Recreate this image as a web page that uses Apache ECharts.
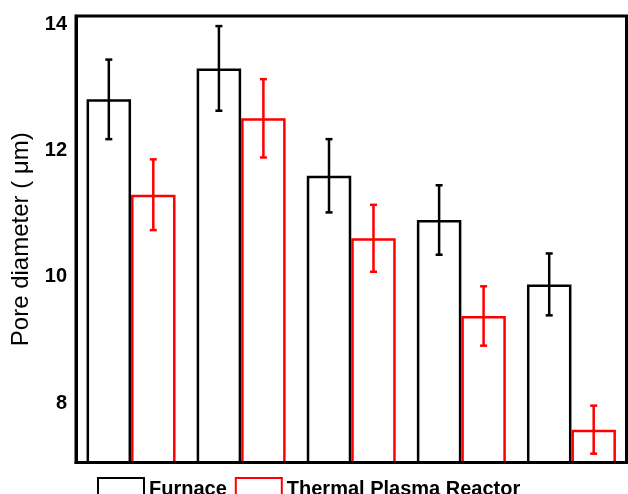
<!DOCTYPE html>
<html>
<head>
<meta charset="utf-8">
<script src="https://cdn.jsdelivr.net/npm/echarts@6/dist/echarts.min.js"></script>
<style>
  * { margin: 0; padding: 0; }
  body { background: #fff; }
</style>
</head>
<body>
<div id="main" style="width: 628px; height: 494px;"></div>
<script>
  // samples (no x labels in the original)
  const categories = ['1', '2', '3', '4', '5']
  const furnace = [12.81, 13.30, 11.60, 10.90, 9.88]
  const furnaceErr = [0.63, 0.67, 0.58, 0.55, 0.49]
  const plasma = [11.30, 12.51, 10.61, 9.38, 7.58]
  const plasmaErr = [0.56, 0.62, 0.53, 0.47, 0.38]
  const yTicks = [8, 10, 12, 14]

  const barPct = 40.4

  function errData (vals, errs) {
    return vals.map((v, i) => [i, v - errs[i], v + errs[i]])
  }

  function errBar (color, side) {
    return {
      type: 'custom',
      z: 4,
      silent: true,
      renderItem: function (params, api) {
        const i = api.value(0)
        const lo = api.coord([i, api.value(1)])
        const hi = api.coord([i, api.value(2)])
        const band = api.size([1, 0])[0]
        const x = lo[0] + side * band * barPct / 200
        const cap = 3.5
        const style = { stroke: color, lineWidth: 2.5 }
        return {
          type: 'group',
          children: [
            { type: 'line', shape: { x1: x, y1: hi[1], x2: x, y2: lo[1] }, style: style },
            { type: 'line', shape: { x1: x - cap, y1: hi[1], x2: x + cap, y2: hi[1] }, style: style },
            { type: 'line', shape: { x1: x - cap, y1: lo[1], x2: x + cap, y2: lo[1] }, style: style }
          ]
        }
      }
    }
  }

  const chart = echarts.init(document.getElementById('main'))
  chart.setOption({
    animation: false,
    grid: {
      left: 76,
      top: 16,
      right: 1.5,
      bottom: 31.5,
      show: true,
      borderColor: '#000',
      borderWidth: 3
    },
    legend: {
      left: 97,
      top: 477,
      padding: 0,
      icon: 'rect',
      itemWidth: 46,
      itemHeight: 22,
      itemGap: 8,
      textStyle: { fontFamily: 'Liberation Sans', fontSize: 20, fontWeight: 'bold', color: '#000' },
      data: ['Furnace', 'Thermal Plasma Reactor']
    },
    xAxis: {
      type: 'category',
      data: categories,
      z: 6,
      axisLine: { lineStyle: { color: '#000', width: 3 } },
      axisTick: { show: false },
      axisLabel: { show: false }
    },
    yAxis: {
      type: 'value',
      min: 7.06,
      max: 14.13,
      z: 6,
      name: 'Pore diameter ( \u03bcm)',
      nameLocation: 'middle',
      nameGap: 40,
      nameTextStyle: { fontFamily: 'Liberation Sans', fontSize: 24, color: '#000' },
      axisLine: { show: true, lineStyle: { color: '#000', width: 3 } },
      axisTick: { show: false },
      splitLine: { show: false },
      axisLabel: {
        customValues: yTicks,
        margin: 9,
        fontFamily: 'Liberation Sans',
        fontSize: 20,
        fontWeight: 'bold',
        color: '#000'
      }
    },
    series: [
      {
        name: 'Furnace',
        type: 'bar',
        barWidth: barPct + '%',
        barGap: '0%',
        data: furnace,
        itemStyle: { color: '#fff', borderColor: '#000', borderWidth: 2.5 }
      },
      {
        name: 'Thermal Plasma Reactor',
        type: 'bar',
        barWidth: barPct + '%',
        barGap: '0%',
        data: plasma,
        itemStyle: { color: '#fff', borderColor: '#ff0000', borderWidth: 2.5 }
      },
      Object.assign(errBar('#000', -1), { data: errData(furnace, furnaceErr) }),
      Object.assign(errBar('#ff0000', 1), { data: errData(plasma, plasmaErr) })
    ]
  })
</script>
</body>
</html>
